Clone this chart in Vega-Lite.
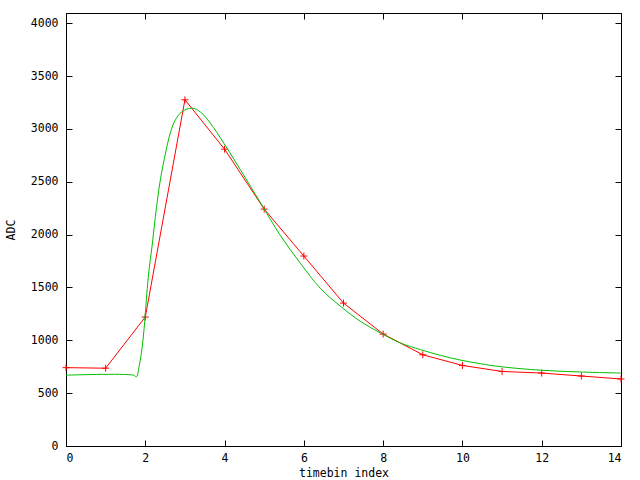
{
  "$schema": "https://vega.github.io/schema/vega-lite/v6.json",
  "width": 555,
  "height": 433,
  "autosize": {"type": "none"},
  "padding": {"left": 66, "top": 13, "right": 20, "bottom": 34},
  "background": "white",
  "config": {
    "view": {"stroke": "black", "strokeWidth": 1},
    "axis": {
      "labelFont": "DejaVu Sans Mono",
      "labelFontSize": 11.5,
      "labelColor": "black",
      "titleFont": "DejaVu Sans Mono",
      "titleFontSize": 11.5,
      "titleFontWeight": "normal",
      "titleColor": "black",
      "domain": false,
      "grid": false,
      "ticks": true,
      "tickColor": "#000000",
      "tickOpacity": 1,
      "tickSize": 6,
      "offset": -6,
      "tickWidth": 1,
      "zindex": 1,
      "format": "d"
    }
  },
  "datasets": {
    "red": [
      {"t": 0, "adc": 741}, {"t": 1, "adc": 736}, {"t": 2, "adc": 1220},
      {"t": 3, "adc": 3275}, {"t": 4, "adc": 2808}, {"t": 5, "adc": 2241},
      {"t": 6, "adc": 1797}, {"t": 7, "adc": 1352}, {"t": 8, "adc": 1059},
      {"t": 9, "adc": 863}, {"t": 10, "adc": 762}, {"t": 11, "adc": 705},
      {"t": 12, "adc": 690}, {"t": 13, "adc": 662}, {"t": 14, "adc": 634}
    ],
    "green": [
      {"t": 0, "adc": 670}, {"t": 1.7, "adc": 670}, {"t": 1.775, "adc": 655},
      {"t": 1.85, "adc": 765}, {"t": 1.92, "adc": 930}, {"t": 1.97, "adc": 1110},
      {"t": 2.0, "adc": 1255}, {"t": 2.086, "adc": 1636}, {"t": 2.17, "adc": 1887},
      {"t": 2.255, "adc": 2171}, {"t": 2.38, "adc": 2518}, {"t": 2.51, "adc": 2771},
      {"t": 2.63, "adc": 2960}, {"t": 2.76, "adc": 3086}, {"t": 2.93, "adc": 3164},
      {"t": 3.18, "adc": 3196}, {"t": 3.39, "adc": 3160}, {"t": 3.64, "adc": 3054},
      {"t": 3.98, "adc": 2865}, {"t": 4.4, "adc": 2613}, {"t": 4.91, "adc": 2298},
      {"t": 5.41, "adc": 1990}, {"t": 5.92, "adc": 1725}, {"t": 6.42, "adc": 1490},
      {"t": 6.93, "adc": 1320}, {"t": 7.43, "adc": 1178}, {"t": 7.94, "adc": 1068},
      {"t": 8.44, "adc": 974}, {"t": 8.95, "adc": 911}, {"t": 9.45, "adc": 857},
      {"t": 9.96, "adc": 812}, {"t": 10.46, "adc": 778}, {"t": 10.97, "adc": 750},
      {"t": 11.98, "adc": 717}, {"t": 12.99, "adc": 700}, {"t": 14, "adc": 690}
    ]
  },
  "resolve": {"axis": {"x": "independent", "y": "independent"}},
  "layer": [
    {
      "data": {"name": "red"},
      "mark": {"type": "line", "color": "#ff0000", "strokeWidth": 1, "clip": true},
      "encoding": {
        "x": {"field": "t", "type": "quantitative",
              "scale": {"domain": [0, 14], "nice": false, "zero": false},
              "axis": {"orient": "bottom", "values": [0, 2, 4, 6, 8, 10, 12, 14], "title": "timebin index", "labelPadding": 6, "titlePadding": 4, "labelAngle": 0}},
        "y": {"field": "adc", "type": "quantitative",
              "scale": {"domain": [0, 4096], "nice": false},
              "axis": {"orient": "left", "values": [0, 500, 1000, 1500, 2000, 2500, 3000, 3500, 4000], "title": "ADC", "labelPadding": 8, "titlePadding": 14}}
      }
    },
    {
      "data": {"name": "red"},
      "mark": {"type": "point", "shape": "M-1,0L1,0M0,-1L0,1", "color": "#ff0000", "filled": false, "strokeWidth": 1, "size": 49, "opacity": 1},
      "encoding": {
        "x": {"field": "t", "type": "quantitative", "scale": {"domain": [0, 14], "nice": false, "zero": false}, "axis": null},
        "y": {"field": "adc", "type": "quantitative", "scale": {"domain": [0, 4096], "nice": false}, "axis": null}
      }
    },
    {
      "data": {"name": "green"},
      "mark": {"type": "line", "color": "#00c000", "strokeWidth": 1, "interpolate": "catmull-rom", "clip": true},
      "encoding": {
        "x": {"field": "t", "type": "quantitative",
              "scale": {"domain": [0, 14], "nice": false, "zero": false},
              "axis": {"orient": "top", "values": [0, 2, 4, 6, 8, 10, 12, 14], "labels": false, "title": null}},
        "y": {"field": "adc", "type": "quantitative",
              "scale": {"domain": [0, 4096], "nice": false},
              "axis": {"orient": "right", "values": [0, 500, 1000, 1500, 2000, 2500, 3000, 3500, 4000], "labels": false, "title": null}}
      }
    }
  ]
}
